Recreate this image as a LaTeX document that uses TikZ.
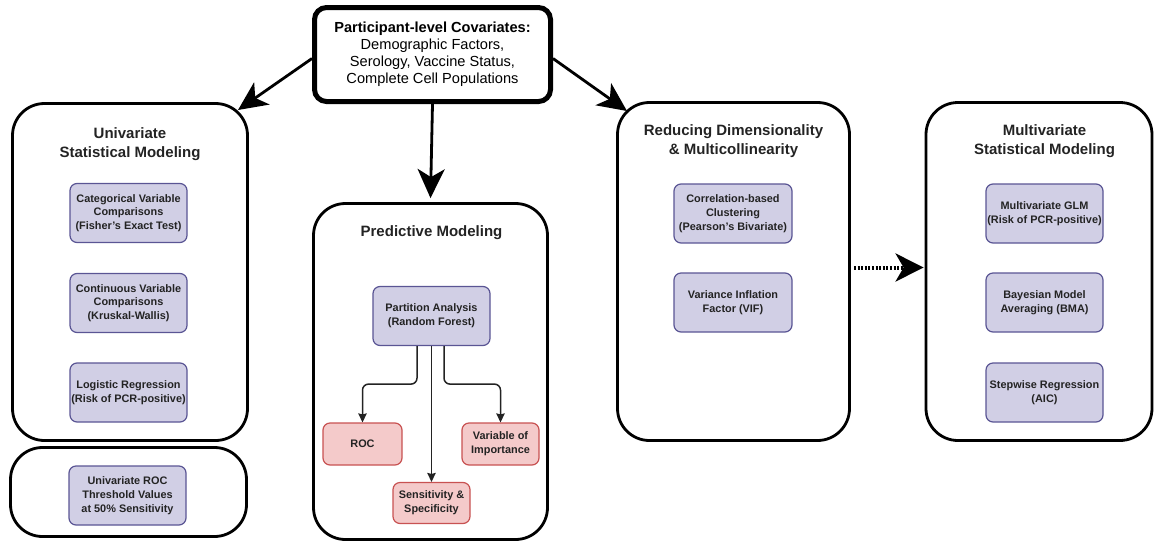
\documentclass[tikz,border=0pt]{standalone}
\usepackage{fontspec}
\setmainfont{Liberation Sans}
\usetikzlibrary{arrows.meta}
\definecolor{pfill}{RGB}{209,207,229}
\definecolor{pdraw}{RGB}{90,85,148}
\definecolor{rfill}{RGB}{244,202,202}
\definecolor{rdraw}{RGB}{200,82,82}
\definecolor{txt}{RGB}{35,35,35}
\tikzset{
  bigbox/.style={draw, line width=2.8pt, rounded corners=32pt, inner sep=0pt},
  topbox/.style={draw, line width=5pt, rounded corners=12pt, inner sep=0pt, align=center,
    font=\fontsize{14.6}{17}\selectfont},
  title/.style={font=\bfseries\fontsize{15}{18.5}\selectfont, align=center, text=txt},
  pbox/.style={fill=pfill, draw=pdraw, line width=1.2pt, rounded corners=7pt, align=center,
    minimum width=117pt, minimum height=59pt, inner sep=0pt, text=txt,
    font=\bfseries\fontsize{10.9}{13.8}\selectfont},
  rbox/.style={fill=rfill, draw=rdraw, line width=1.2pt, rounded corners=7pt, align=center,
    minimum width=77pt, minimum height=41pt, inner sep=0pt, text=txt,
    font=\bfseries\fontsize{10.9}{13.8}\selectfont},
  bigarrow/.style={line width=2.8pt, -{Stealth[length=29pt,width=27pt,inset=8pt]}},
  dotarrow/.style={line width=4pt, dash pattern=on 2pt off 1.6pt, -{Stealth[length=28pt,width=28pt,inset=8pt]}},
  smallarrow/.style={line width=1.5pt, rounded corners=6pt, -{Stealth[length=9pt,width=8.5pt,inset=1pt]}, color=txt},
}
\begin{document}
\begin{tikzpicture}[x=1pt,y=-1pt]
\useasboundingbox (0,0) rectangle (1160,542);
% top
\node[topbox, minimum width=236pt, minimum height=94pt] (top) at (432.5,54.5)
  {\textbf{Participant-level Covariates:}\\Demographic Factors,\\Serology, Vaccine Status,\\Complete Cell Populations};
% big boxes
\node[bigbox, minimum width=235pt, minimum height=337pt] (uni) at (130,272) {};
\node[bigbox, minimum width=236pt, minimum height=89pt] (roc1) at (128.5,492) {};
\node[bigbox, minimum width=234pt, minimum height=336pt] (pred) at (430.5,371.5) {};
\node[bigbox, minimum width=232pt, minimum height=338pt] (red) at (733.5,271.5) {};
\node[bigbox, minimum width=226pt, minimum height=338pt] (mult) at (1039,271.5) {};
% titles
\node[title] (tuni) at (130,144) {Univariate\\Statistical Modeling};
\node[title] (tpred) at (431.5,233) {Predictive Modeling};
\node[title] (tred) at (733.5,141) {Reducing Dimensionality\\\& Multicollinearity};
\node[title] (tmult) at (1044.5,141) {Multivariate\\Statistical Modeling};
% univariate
\node[pbox] (u1) at (128.5,213) {Categorical Variable\\Comparisons\\(Fisher’s Exact Test)};
\node[pbox] (u2) at (128.5,303) {Continuous Variable\\Comparisons\\(Kruskal-Wallis)};
\node[pbox] (u3) at (128.5,392.5) {Logistic Regression\\(Risk of PCR-positive)};
\node[pbox] (u4) at (127.5,495.5) {Univariate ROC\\Threshold Values\\at 50\% Sensitivity};
% predictive
\node[pbox] (part) at (431.5,316) {Partition Analysis\\(Random Forest)};
\node[rbox, minimum width=79pt, minimum height=42pt] (roc) at (362.5,444) {ROC};
\node[rbox, minimum height=42pt] (voi) at (500.5,444) {Variable of\\Importance};
\node[rbox] (sens) at (431.5,503) {Sensitivity \&\\Specificity};
% reducing
\node[pbox, minimum width=118pt] (r1) at (733,213.5) {Correlation-based\\Clustering\\(Pearson’s Bivariate)};
\node[pbox, minimum width=118pt] (r2) at (733,302.5) {Variance Inflation\\Factor (VIF)};
% multivariate
\node[pbox] (m1) at (1044.5,213.5) {Multivariate GLM\\(Risk of PCR-positive)};
\node[pbox] (m2) at (1044.5,302.5) {Bayesian Model\\Averaging (BMA)};
\node[pbox] (m3) at (1044.5,392.5) {Stepwise Regression\\(AIC)};
% arrows
\coordinate (uniTip) at (238,110);
\coordinate (redTip) at (627,111);
\draw[bigarrow] ([yshift=-4pt]top.west) -- (uniTip);
\draw[bigarrow] ([yshift=-4pt]top.east) -- (redTip);
\draw[bigarrow] (top.south) -- ([yshift=4pt]pred.north);
\draw[dotarrow] ([xshift=3pt,yshift=4pt]red.east) -- ([xshift=-1pt,yshift=4pt]mult.west);
\draw[smallarrow] ([xshift=-14.5pt]part.south) -- ++(0,38) -| (roc.north);
\draw[smallarrow] (part.south) -- (sens.north);
\draw[smallarrow] ([xshift=12.5pt]part.south) -- ++(0,38) -| (voi.north);
\end{tikzpicture}
\end{document}
